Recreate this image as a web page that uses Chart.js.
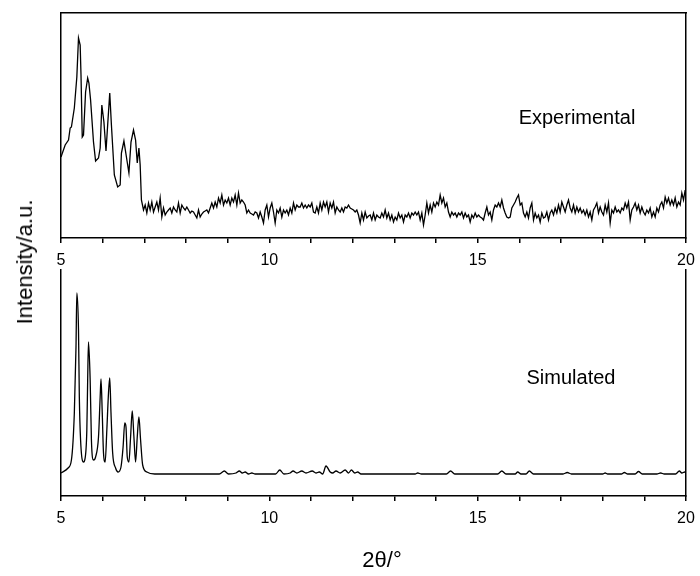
<!DOCTYPE html>
<html>
<head>
<meta charset="utf-8">
<script src="https://cdn.jsdelivr.net/npm/chart.js@4.4.0/dist/chart.umd.min.js"></script>
<style>
  body { margin: 0; background: #fff; width: 700px; height: 576px; position: relative; overflow: hidden;
         font-family: "Liberation Sans", Arial, sans-serif; color: #000; }
  .box { position: absolute; left: 0; width: 700px; }
  #topBox { top: 0; height: 280px; }
  #botBox { top: 250px; height: 326px; }
  .lbl { position: absolute; font-size: 20px; white-space: nowrap; transform: translate(-50%, -50%); }
</style>
</head>
<body>
<div class="box" id="topBox"><canvas id="expChart"></canvas></div>
<div class="box" id="botBox"><canvas id="simChart"></canvas></div>
<div class="lbl" style="left:577px;top:117px">Experimental</div>
<div class="lbl" style="left:571px;top:377px">Simulated</div>
<div class="lbl" style="left:25px;top:262px;font-size:22px;transform:translate(-50%,-50%) rotate(-90deg)">Intensity/a.u.</div>
<div class="lbl" style="left:382px;top:560px;font-size:22px">2θ/°</div>
<script>
// x range and tick labels
const thetaMin = 5, thetaMax = 20;
const tickLabels = [5, 10, 15, 20];

// experimental pattern: low-angle peaks read point by point
const expPeakTheta = [5.00,5.10,5.18,5.22,5.25,5.32,5.38,5.42,5.46,5.48,5.51,5.54,5.59,5.64,5.67,5.71,5.78,5.83,5.90,5.94,
  5.98,6.03,6.08,6.12,6.17,6.21,6.28,6.36,6.42,6.45,6.51,6.57,6.63,6.68,6.74,6.79,6.83,6.87,6.90,6.93,6.98];
const expPeakVal = [81,93,98,110,111,130,161,200,193,163,101,103,146,160,155,138,96,77,80,90,
  133,116,87,113,145,113,63,51,53,85,97,81,65,96,108,98,75,90,73,38,28];

// experimental background, read every 0.04 deg from 7.02
const noiseStart = 7.02, noiseStep = 0.04;
const expNoise = [
  33,25,35,28,36,26,31,36,28,40, 21,30,23,26,28,30,25,31,28,26, 35,25,33,30,28,31,28,25,27,26,
  23,20,28,21,24,26,27,28,25,30, 35,30,36,31,40,35,43,33,38,35, 40,33,40,36,43,33,45,35,38,36,
  33,25,28,25,24,23,26,25,20,26, 21,15,28,33,21,30,35,26,15,28, 25,30,21,28,25,28,23,30,25,35,
  28,33,31,31,35,30,33,30,33,31, 35,26,25,31,25,35,28,36,31,36, 26,35,30,36,25,31,28,26,30,26,
  31,30,33,30,29,28,26,28,23,15, 25,18,26,20,22,23,18,25,18,23, 21,20,25,21,28,20,25,18,23,16,
  21,18,25,20,23,16,23,21,25,20, 25,23,26,23,26,18,
  25,13,23,35,25,33,26,35,31,36, 33,43,35,40,31,35,26,21,26,23, 25,21,25,23,26,20,25,21,23,16,
  23,20,25,21,23,21,20,18,25,31, 23,26,18,28,33,31,35,31,38,30, 25,21,20,21,30,33,36,40,43,33,
  35,25,21,26,20,30,35,18,25,20, 23,16,25,20,21,26,18,25,28,23, 30,25,33,26,36,31,26,33,38,30,
  26,33,25,31,26,30,25,28,23,28, 21,26,18,28,31,35,25,31,26,23, 33,26,35,15,28,25,31,26,28,25,
  30,28,35,30,36,18,28,31,35,28, 33,25,31,26,23,28,25,30,21,26, 21,30,26,33,36,30,41,35,40,33,
  38,33,40,31,36,33,45,38,48
];

// simulated pattern
const simTheta = [5.00,5.17,5.25,5.32,5.36,5.38,5.42,5.44,5.47,5.54,5.57,5.62,5.64,5.66,5.70,5.73,5.78,5.83,5.90,5.94,
  5.96,5.99,6.02,6.06,6.10,6.14,6.17,6.20,6.24,6.31,6.37,6.44,6.49,6.53,6.56,6.59,6.63,6.67,6.71,6.75,
  6.79,6.83,6.87,6.91,6.96,7.06,7.25,
  8.80,8.92,9.02,9.20,9.28,9.35,9.42,9.50,9.58,9.66,
  10.15,10.25,10.35,10.50,10.57,10.66,10.78,10.88,11.03,11.12,11.20,11.28,11.36,11.46,11.52,11.60,11.70,11.82,11.90,11.97,12.05,12.12,12.20,
  13.50,13.56,13.65,14.25,14.35,14.45,15.48,15.58,15.68,15.90,15.96,16.04,16.16,16.24,16.34,
  17.05,17.15,17.25,18.00,18.06,18.12,18.45,18.52,18.60,18.78,18.86,18.95,19.30,19.39,19.48,19.75,19.84,19.90,19.97,20.00];
const simVal = [23,28,36,83,149,203,166,99,56,34,36,66,116,154,116,56,36,39,59,99,
  117,83,43,34,66,103,118,83,43,28,24,29,49,73,69,39,34,59,85,59,
  34,59,79,56,31,24,22,
  22,25,22,23,25,23,24,22,23,22,
  22,26,22,23,25,23,25,23,25,23,24,22,30,24,23,25,23,26,23,26,23,24,22,
  22,23,22,22,25,22,22,25,22,22,24,22,22,25,22,
  22,23.5,22,22,23,22,22,23.5,22,22,24.5,22,22,23,22,22,25,23,24,23];

const expData = expPeakTheta.map((t, i) => ({ x: t, y: expPeakVal[i] }))
  .concat(expNoise.map((v, i) => ({ x: noiseStart + i * noiseStep, y: v })));
const simData = simTheta.map((t, i) => ({ x: t, y: simVal[i] }));

const tickFont = { family: '"Liberation Sans", Arial, sans-serif', size: 16 };

function panel(id, data, yMax, topPad, axisH, smooth) {
  return new Chart(document.getElementById(id), {
    type: 'line',
    data: { datasets: [{ data, borderColor: '#000', borderWidth: 1.3, pointRadius: 0, fill: false,
      tension: 0, cubicInterpolationMode: smooth ? 'monotone' : 'default' }] },
    options: {
      responsive: true, maintainAspectRatio: false, animation: false,
      layout: { padding: { top: topPad, right: 14, left: 0, bottom: 0 } },
      plugins: { legend: { display: false }, tooltip: { enabled: false } },
      scales: {
        x: {
          type: 'linear', min: thetaMin, max: thetaMax, position: 'bottom',
          ticks: { stepSize: 1, autoSkip: false, maxRotation: 0, padding: 8, color: '#000', font: tickFont,
            callback: v => tickLabels.includes(v) ? String(v) : '' },
          grid: { drawOnChartArea: false, tickLength: 5, color: '#000', lineWidth: 1.5 },
          border: { color: '#000', width: 1.6 },
          // keep the plot frame at fixed pixels, labels may overhang
          afterFit: s => { s.height = axisH; s.paddingLeft = 0; s.paddingRight = 0; }
        },
        xTop: {
          type: 'linear', min: thetaMin, max: thetaMax, position: 'top', display: topPad > 15 ? false : true,
          ticks: { display: false }, grid: { display: false },
          border: { color: '#000', width: 1.5 },
          afterFit: s => { s.height = 0; s.paddingLeft = 0; s.paddingRight = 0; }
        },
        y: {
          min: 0, max: yMax, position: 'left',
          ticks: { display: false }, grid: { display: false },
          border: { color: '#000', width: 1.5 },
          afterFit: s => { s.width = 61; }
        },
        yRight: {
          min: 0, max: yMax, position: 'right',
          ticks: { display: false }, grid: { display: false },
          border: { color: '#000', width: 1.5 },
          afterFit: s => { s.width = 0; }
        }
      }
    }
  });
}

panel('expChart', expData, 225, 13, 42, false);
panel('simChart', simData, 226, 20, 80, true);
</script>
</body>
</html>
